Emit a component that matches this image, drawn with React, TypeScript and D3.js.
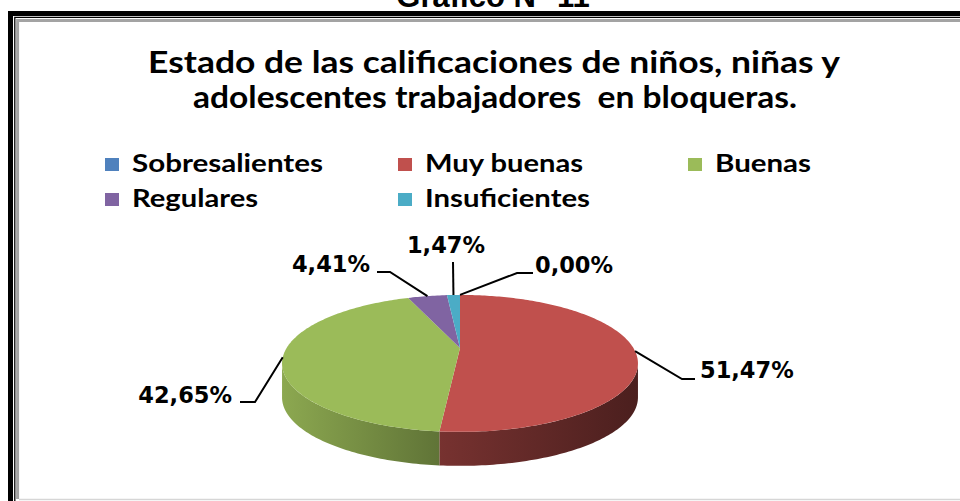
import React from "react";
import * as d3 from "d3";

// data
const categories = ["Sobresalientes", "Muy buenas", "Buenas", "Regulares", "Insuficientes"];
const values = [0.0, 51.47, 42.65, 4.41, 1.47];
const valueLabels = ["0,00%", "51,47%", "42,65%", "4,41%", "1,47%"];
const colors = ["#4F81BD", "#C0504D", "#9BBB59", "#8064A2", "#4BACC6"];
const titleLines = [
  "Estado de las calificaciones de niños, niñas y",
  "adolescentes trabajadores  en bloqueras.",
];
const header = "Gráfico N° 11";

// 3d pie geometry (perspective squashed circle)
const CX = 460;
const CY = 348;
const RX = 173.4;
const RY = 65;
const K = 0.225;
const DEPTH = 34;

const project = (a: number): [number, number] => {
  const u = Math.sin(a);
  const v = Math.cos(a);
  const s = 1 / (1 + K * v);
  return [CX + RX * u * s, CY - RY * v * s];
};

const sample = (a0: number, a1: number) => {
  const n = Math.max(2, Math.ceil(((a1 - a0) * 180) / Math.PI));
  return d3.range(n + 1).map((i) => a0 + ((a1 - a0) * i) / n);
};

// label placement (text position + leader elbow/end), same order as categories
const labelLayout = [
  { x: 535, y: 273, anchor: "start", pts: [[517, 273], [533, 273]] },
  { x: 700, y: 378, anchor: "start", pts: [[682, 379], [695, 379]] },
  { x: 232, y: 403, anchor: "end", pts: [[255, 402], [240, 402]] },
  { x: 370, y: 272, anchor: "end", pts: [[390, 272], [377, 272]] },
  { x: 446, y: 253, anchor: "middle", pts: [[453, 262]] },
];

// legend grid + text widths (reference text is stretched sideways)
const legendCols = [105, 398, 688];
const legendRows = [158, 193];
const legendWidths = [191, 158, 96, 126, 165];

const shade = (c: string, k: number) => {
  const r = d3.rgb(c);
  return d3.rgb(r.r * k, r.g * k, r.b * k).formatHex();
};

export default function App() {
  const arcs = d3.pie<number>().sort(null).value((d) => d)(values);
  const line = d3.line<[number, number]>();
  const aRight = Math.acos(-K);
  const aLeft = 2 * Math.PI - aRight;
  const xLeft = project(aLeft)[0];
  const xRight = project(aRight)[0];

  const sides = arcs.map((a, i) => {
    const lo = Math.max(a.startAngle, aRight);
    const hi = Math.min(a.endAngle, aLeft);
    if (hi <= lo) return null;
    const top = sample(lo, hi).map(project);
    const bottom = top.map(([x, y]) => [x, y + DEPTH] as [number, number]).reverse();
    return <path key={i} d={line([...top, ...bottom]) + "Z"} fill={`url(#side-${i})`} />;
  });

  const tops = arcs.map((a, i) => {
    if (a.endAngle - a.startAngle <= 0) return null;
    const rim = sample(a.startAngle, a.endAngle).map(project);
    return <path key={i} d={line([[CX, CY], ...rim]) + "Z"} fill={colors[i]} />;
  });

  const labels = arcs.map((a, i) => {
    const mid = (a.startAngle + a.endAngle) / 2;
    const anchor = project(mid);
    const L = labelLayout[i];
    const pts = [anchor, ...L.pts] as [number, number][];
    return (
      <g key={i}>
        <path d={line(pts) || ""} fill="none" stroke="#000" strokeWidth={2} />
        <text
          x={L.x}
          y={L.y}
          textAnchor={L.anchor as any}
          fontFamily="DejaVu Sans"
          fontWeight="bold"
          fontSize={22.5}
          fill="#000"
        >
          {valueLabels[i]}
        </text>
      </g>
    );
  });

  return (
    <svg
      width={960}
      height={501}
      style={{ position: "absolute", left: 0, top: 0 }}
    >
      <defs>
        {colors.map((c, i) => (
          <linearGradient
            key={i}
            id={`side-${i}`}
            gradientUnits="userSpaceOnUse"
            x1={xLeft}
            x2={xRight}
            y1={0}
            y2={0}
          >
            <stop offset="0" stopColor={shade(c, 0.9)} />
            <stop offset="0.44" stopColor={shade(c, 0.62)} />
            <stop offset="1" stopColor={shade(c, 0.39)} />
          </linearGradient>
        ))}
      </defs>
      <rect width={960} height={501} fill="#fff" />

      <text
        x={493}
        y={7}
        textAnchor="middle"
        fontFamily="Liberation Sans"
        fontWeight="bold"
        fontSize={31}
      >
        {header}
      </text>

      {/* frame */}
      <path d="M10.5,1000V13.5H1000" fill="none" stroke="#000" strokeWidth={5} />
      <path d="M14.8,1000V17.3H1000" fill="none" stroke="#000" strokeWidth={1.3} />
      <path d="M17.6,499V20.6H1000" fill="none" stroke="#a3a3a3" strokeWidth={3} />
      <line x1={19} x2={960} y1={499.5} y2={499.5} stroke="#d6d6d6" strokeWidth={1.5} />

      {/* title */}
      {titleLines.map((t, i) => (
        <text
          key={i}
          x={i === 0 ? 148 : 193}
          y={i === 0 ? 73 : 108}
          fontFamily="Lato"
          fontWeight="bold"
          fontSize={31}
          textLength={i === 0 ? 692 : 604}
          lengthAdjust="spacingAndGlyphs"
          style={{ whiteSpace: "pre" }}
        >
          {t}
        </text>
      ))}

      {/* legend */}
      {categories.map((c, i) => {
        const x = legendCols[i % 3];
        const y = legendRows[Math.floor(i / 3)];
        return (
          <g key={c}>
            <rect x={x} y={y} width={14} height={13} fill={colors[i]} />
            <text
              x={x + 27}
              y={y + 13.5}
              fontFamily="Lato"
              fontWeight="bold"
              fontSize={24}
              textLength={legendWidths[i]}
              lengthAdjust="spacingAndGlyphs"
            >
              {c}
            </text>
          </g>
        );
      })}

      {sides}
      {tops}
      {labels}
    </svg>
  );
}
